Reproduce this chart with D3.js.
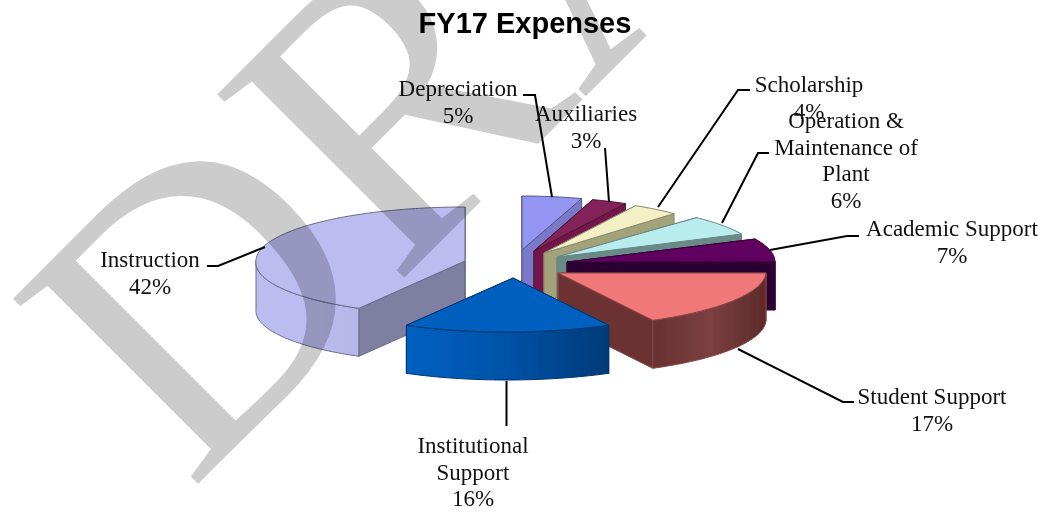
<!DOCTYPE html>
<html>
<head>
<meta charset="utf-8">
<script src="https://cdn.jsdelivr.net/npm/d3@7/dist/d3.min.js"></script>
<style>
html,body{margin:0;padding:0;background:#fff;overflow:hidden}
svg{display:block}
.lbl{font-family:"Liberation Serif","Times New Roman",serif;font-size:23px;fill:#111;text-anchor:middle}
.title{font-family:"Liberation Sans",Arial,sans-serif;font-size:29px;font-weight:bold;fill:#000;text-anchor:middle}
.wm{font-family:"Liberation Serif","Times New Roman",serif;font-size:400px;fill:#cccccc;mix-blend-mode:multiply}
</style>
</head>
<body>
<svg id="c" width="1044" height="512" viewBox="0 0 1044 512"></svg>
<script>
// ---- data ----
const categories = ["Depreciation","Auxiliaries","Scholarship","Operation & Maintenance of Plant","Academic Support","Student Support","Institutional Support","Instruction"];
const values = [5,3,4,6,7,17,16,42];
const chartTitle = "FY17 Expenses";
const watermark = "DRAFT";
const labelLines = [["Depreciation"],["Auxiliaries"],["Scholarship"],["Operation &","Maintenance of","Plant"],["Academic Support"],["Student Support"],["Institutional","Support"],["Instruction"]];

// ---- styles ----
const topColors  = ["#9494f2","#84215a","#f2f0c4","#b9ecec","#600060","#f07878","#0060c0","#bcbcf0"];
const wallColors = ["#7a78c8","#74184c","#a3a278","#6a8a88","#2c0030","#6c3232","#0060c0","#7f7fa2"];
const wallGrad   = [null,null,null,null,null,["#6a3030","#7c4040","#5e2a2a"],["#0060c0","#0052a8","#003a78"],["#bcbcf0","#bcbcf0","#b6b6e8"]];

// ---- layout of the exploded slices: centre x, centre y, horizontal radius ----
const slicePlace = [[522,250,193],[534,251,190],[544,253,190],[557,257,204],[567,262,208],[558,273,208],[513,278,210],[465,261,209]];
const ry = 54, depth = 48, frontSkew = -0.115;
// label centre x, first baseline; leader polyline
const labelPlace = [[458,96],[586,121],[809,92],[846,128],[952,236],[932,404],[473,453],[150,267]];
const lineStep = 26.6;
const leaders = [
 [[523,95],[535,95],[552,197]],
 [[605,148],[609,202]],
 [[750,90],[738,90],[658,207]],
 [[769,153],[758,153],[722,223]],
 [[859,236],[847,236],[770,250]],
 [[854,402],[843,402],[738,349]],
 [[506.5,381],[506.5,426]],
 [[207,266],[218,266],[265,247]]
];

const svg = d3.select("#c");
svg.append("rect").attr("width",1044).attr("height",512).attr("fill","#fff");
const defs = svg.append("defs");
defs.append("filter").attr("id","soft").append("feGaussianBlur").attr("stdDeviation",0.4);

const arcs = d3.pie().sort(null).value(d=>d).startAngle(0).endAngle(2*Math.PI)(values);
const line = d3.line();
const paintOrder = [0,1,2,3,4,5,7,6];
const pie = svg.append("g").attr("filter","url(#soft)");

paintOrder.forEach(i=>{
  const a = arcs[i], [cx,cy,rx] = slicePlace[i];
  const P = t=>{
    const dy=-ry*Math.cos(t);
    return [cx+rx*Math.sin(t)+frontSkew*Math.max(0,dy), cy+dy];
  };
  const n = Math.max(4,Math.ceil((a.endAngle-a.startAngle)/0.02));
  const ts = d3.range(n+1).map(k=>a.startAngle+(a.endAngle-a.startAngle)*k/n);
  const C = [cx,cy];
  const down = p=>[p[0],p[1]+depth];
  const g = pie.append("g");
  const stroke = d3.color(topColors[i]).darker(1.6).formatHex();
  const face = (pts,fill)=>g.append("path").attr("d",line(pts)+"Z").attr("fill",fill)
     .attr("stroke",stroke).attr("stroke-width",1).attr("stroke-linejoin","round");
  // radial walls
  [a.startAngle,a.endAngle].forEach(t=>{
    const e=P(t);
    face([C,e,down(e),down(C)],wallColors[i]);
  });
  // outer wall on the front half
  const front = ts.filter(t=>Math.cos(t)<=0.02);
  if(front.length>1){
    let fill = wallColors[i];
    if(wallGrad[i]){
      const id="w"+i;
      const gr=defs.append("linearGradient").attr("id",id);
      wallGrad[i].forEach((c,k)=>gr.append("stop").attr("offset",k/2).attr("stop-color",c));
      fill="url(#"+id+")";
    }
    const up=front.map(P);
    face(up.concat(up.map(down).reverse()),fill);
  }
  // top face
  face([C].concat(ts.map(P)),topColors[i]);
});

// leader lines
svg.append("g").selectAll("path").data(leaders).join("path")
  .attr("d",d=>line(d)).attr("fill","none").attr("stroke","#000").attr("stroke-width",2);

// labels
const lab = svg.append("g");
categories.forEach((c,i)=>{
  const [x,y]=labelPlace[i];
  const lines=labelLines[i].concat([values[i]+"%"]);
  const t=lab.append("text").attr("class","lbl").attr("x",x).attr("y",y);
  t.selectAll("tspan").data(lines).join("tspan")
    .attr("x",x).attr("y",(d,k)=>y+k*lineStep).text(d=>d);
});

// title
svg.append("text").attr("class","title").attr("x",525).attr("y",33).text(chartTitle);

// watermark
svg.append("text").attr("class","wm").attr("transform","translate(190,492) rotate(-45)").text(watermark);
</script>
</body>
</html>
